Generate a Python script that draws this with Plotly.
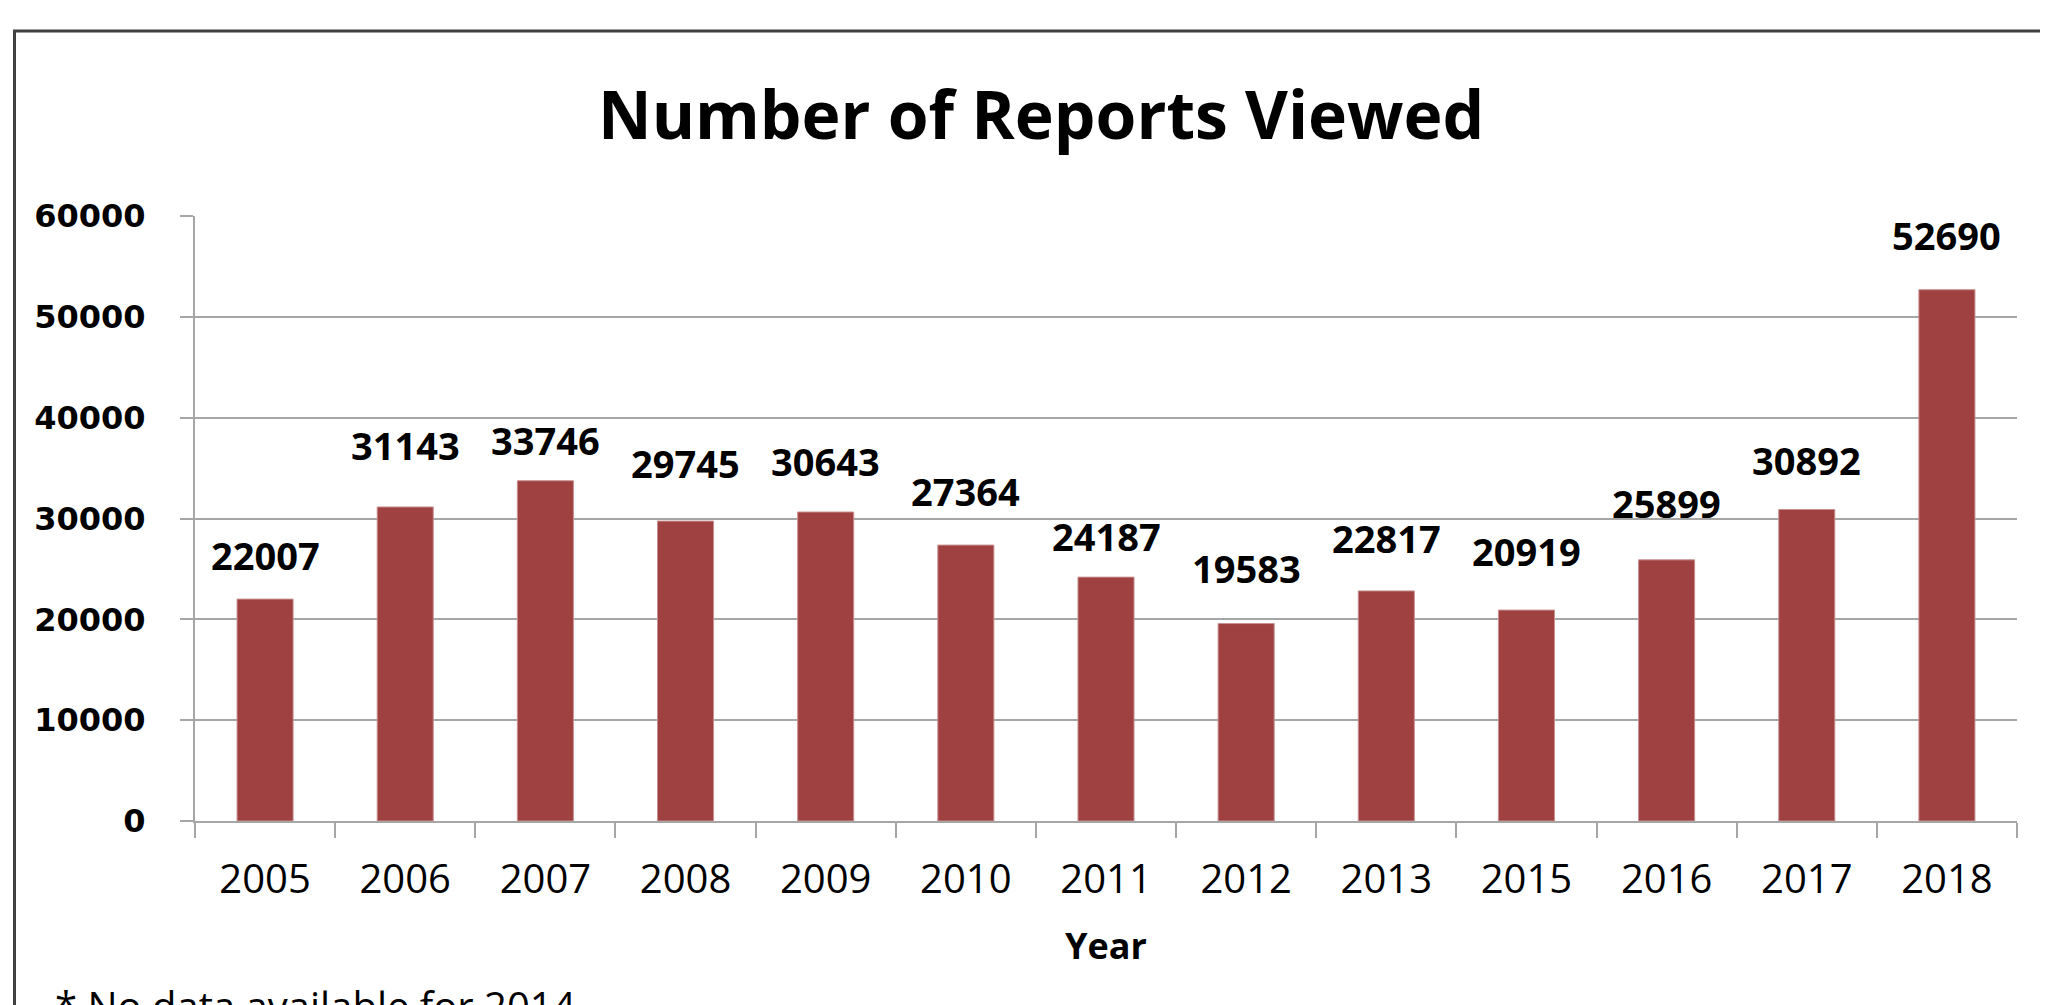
import plotly.graph_objects as go

# ---- data ----
years = ["2005", "2006", "2007", "2008", "2009", "2010", "2011",
         "2012", "2013", "2015", "2016", "2017", "2018"]
reports = [22007, 31143, 33746, 29745, 30643, 27364, 24187,
           19583, 22817, 20919, 25899, 30892, 52690]
y_ticks = [0, 10000, 20000, 30000, 40000, 50000, 60000]

chart_title = "Number of Reports Viewed"
x_title = "Year"
footnote = "* No data available for 2014"

# label offsets above bar tops (pixels), as placed in the original
label_gap = [44, 62, 41, 58, 51, 54, 41, 56, 53, 59, 57, 50, 55]

W, H = 2048, 1005
OFF = 8  # page body margin
L, R, T, B = 195, 2017, 216, 821          # plot area in screen pixels
ML, MR, MT, MB = L - OFF, W - (R - OFF), T - OFF, H - (B - OFF)
PW, PH = W - ML - MR, H - MT - MB


def px(xs):
    return (xs - OFF - ML) / PW


def py(ys):
    return 1 - (ys - OFF - MT) / PH


BAR = "#9E4140"
GRID = "#A6A6A6"
TXT = "Open Sans"

fig = go.Figure()
fig.add_trace(go.Bar(
    x=years, y=reports, width=0.4,
    marker=dict(color=BAR, line=dict(color="#C99090", width=1)),
    hoverinfo="x+y", showlegend=False,
))

for i, (v, g) in enumerate(zip(reports, label_gap)):
    fig.add_annotation(x=i, y=v, text=f"<b>{v}</b>", showarrow=False,
                       xref="x", yref="y", yanchor="middle", yshift=g,
                       font=dict(family=TXT, size=38, color="black"))

fig.add_annotation(text=f"<b>{chart_title}</b>", xref="paper", yref="paper",
                   x=px(1041), y=py(113), xanchor="center", yanchor="middle",
                   showarrow=False, font=dict(family=TXT, size=66, color="black"))

fig.add_annotation(text=footnote, xref="paper", yref="paper",
                   x=px(53), y=py(1005), xanchor="left", yanchor="middle",
                   showarrow=False, font=dict(family=TXT, size=40, color="black"))

# outer chart frame (cropped at right and bottom)
fig.add_shape(type="rect", xref="paper", yref="paper",
              x0=px(14.5), x1=px(2080), y0=py(31), y1=py(1040),
              line=dict(color="#404040", width=3), fillcolor="rgba(0,0,0,0)",
              layer="below")

fig.update_layout(
    width=W, height=H,
    margin=dict(l=ML, r=MR, t=MT, b=MB, autoexpand=False),
    paper_bgcolor="white", plot_bgcolor="white",
    bargap=0.6,
    xaxis=dict(
        type="category", range=[-0.5, len(years) - 0.5],
        tickson="boundaries", ticks="outside", ticklen=15,
        tickwidth=2, tickcolor=GRID, showline=True, linecolor=GRID, linewidth=2,
        showgrid=False, tickangle=0,
        tickfont=dict(family=TXT, size=40, color="black"),
        ticklabelstandoff=22,
        title=dict(text=f"<b>{x_title}</b>", standoff=30,
                   font=dict(family=TXT, size=36, color="black")),
    ),
    yaxis=dict(
        range=[0, 60000], tickvals=y_ticks, tickformat="d", ticks="outside",
        ticklen=13, tickwidth=2, tickcolor=GRID, showline=True, linecolor=GRID,
        linewidth=2, showgrid=True, gridcolor=GRID, gridwidth=2, zeroline=False,
        tickfont=dict(family="DejaVu Sans", size=32, color="black", weight="bold"),
        ticklabelstandoff=28,
    ),
)

fig.write_html("out.html")
